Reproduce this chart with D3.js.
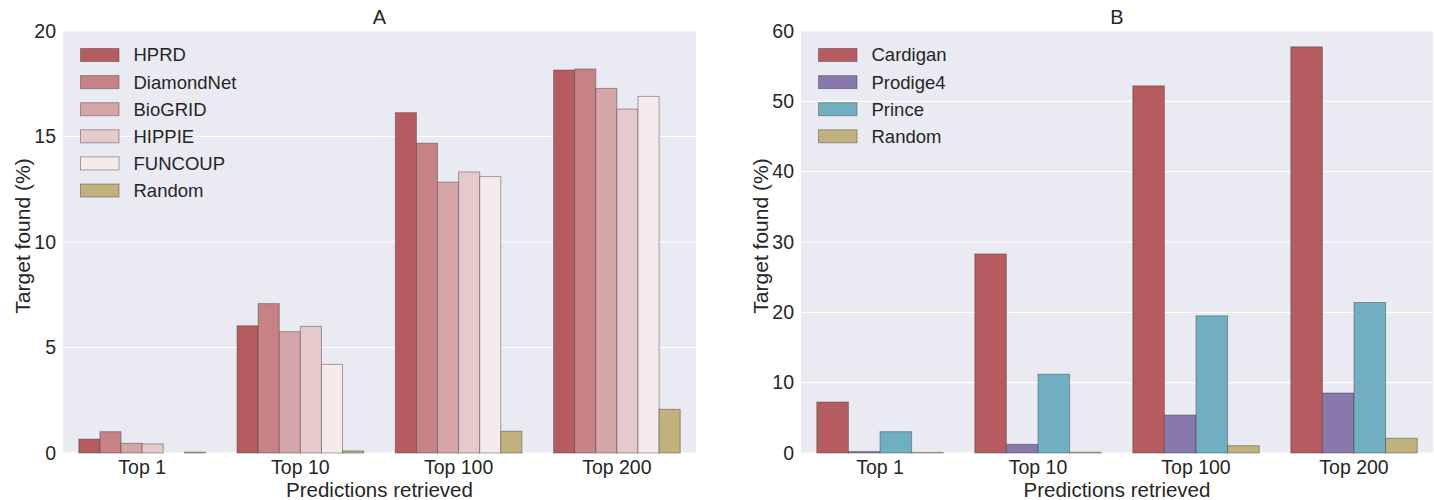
<!DOCTYPE html>
<html>
<head>
<meta charset="utf-8">
<script src="https://cdn.jsdelivr.net/npm/d3@7"></script>
<style>
  html, body { margin: 0; padding: 0; background: #fff; }
  svg { display: block; font-family: "Liberation Sans", Arial, sans-serif; }
</style>
</head>
<body>
<svg id="chart" width="1434" height="500"></svg>
<script>
// Categories shared by both panels
const categories = ["Top 1", "Top 10", "Top 100", "Top 200"];

// Panel A: interaction networks
const seriesA = ["HPRD", "DiamondNet", "BioGRID", "HIPPIE", "FUNCOUP", "Random"];
const hprd       = [0.66, 6.03, 16.13, 18.15];
const diamondNet = [1.01, 7.08, 14.68, 18.2];
const bioGrid    = [0.46, 5.75, 12.84, 17.28];
const hippie     = [0.43, 6.0, 13.32, 16.3];
const funcoup    = [0.0, 4.2, 13.1, 16.9];
const randomA    = [0.04, 0.1, 1.03, 2.07];
const colorsA = ["#b65c60", "#c68284", "#d6a5a7", "#e6c9cb", "#f5ebec", "#c0b27c"];
const ticksA = [0, 5, 10, 15, 20];

// Panel B: prioritisation methods
const seriesB = ["Cardigan", "Prodige4", "Prince", "Random"];
const cardigan = [7.25, 28.3, 52.2, 57.75];
const prodige4 = [0.2, 1.24, 5.4, 8.53];
const prince   = [3.03, 11.2, 19.5, 21.4];
const randomB  = [0.08, 0.1, 1.04, 2.09];
const colorsB = ["#b65c60", "#8878ab", "#70afc2", "#c0b27c"];
const ticksB = [0, 10, 20, 30, 40, 50, 60];

const svg = d3.select("#chart");
const FONT = "Liberation Sans, Arial, sans-serif";
const INK = "#262626";

function panel(opts) {
  const { left, right, top, bottom, title, series, values, colors, yMax, ticks, legendTop } = opts;
  const g = svg.append("g");

  const x0 = d3.scaleBand().domain(categories).range([left, right]).paddingInner(0).paddingOuter(0);
  const x1 = d3.scaleBand().domain(series).range([0, x0.bandwidth() * 0.8]);
  const y = d3.scaleLinear().domain([0, yMax]).range([bottom, top]);

  // background
  g.append("rect").attr("x", left).attr("y", top)
    .attr("width", right - left).attr("height", bottom - top)
    .attr("fill", "#eaeaf2");

  // gridlines
  g.selectAll(".grid").data(ticks).enter().append("line")
    .attr("x1", left).attr("x2", right)
    .attr("y1", d => y(d)).attr("y2", d => y(d))
    .attr("stroke", "#fff").attr("stroke-width", 1.2);

  // y axis (tick labels only)
  const yAxis = d3.axisLeft(y).tickValues(ticks).tickSize(0).tickPadding(7);
  const ya = g.append("g").attr("transform", `translate(${left},0)`).call(yAxis);
  ya.select(".domain").remove();
  ya.selectAll("text").attr("font-size", 19.5).attr("fill", INK).attr("font-family", FONT);

  // x axis (tick labels only)
  const xAxis = d3.axisBottom(x0).tickSize(0).tickPadding(7);
  const xa = g.append("g").attr("transform", `translate(0,${bottom})`).call(xAxis);
  xa.select(".domain").remove();
  xa.selectAll("text").attr("font-size", 19.5).attr("fill", INK).attr("font-family", FONT);

  // bars
  series.forEach((s, si) => {
    const vals = values[si];
    g.append("g").selectAll("rect").data(categories).enter().append("rect")
      .attr("x", c => x0(c) + x0.bandwidth() * 0.1 + x1(s))
      .attr("width", x1.bandwidth())
      .attr("y", (c, i) => y(vals[i]))
      .attr("height", (c, i) => y(0) - y(vals[i]))
      .attr("fill", colors[si])
      .attr("stroke", "rgba(60,60,60,0.45)")
      .attr("stroke-width", 1);
  });

  // legend
  const lg = g.append("g");
  series.forEach((s, si) => {
    const cy = legendTop + si * 27.1;
    lg.append("rect").attr("x", left + 17.5).attr("y", cy - 6.5)
      .attr("width", 38.5).attr("height", 13)
      .attr("fill", colors[si]).attr("stroke", "rgba(60,60,60,0.45)").attr("stroke-width", 1);
    lg.append("text").attr("x", left + 70.5).attr("y", cy)
      .attr("dy", "0.35em").attr("font-size", 18.5).attr("fill", INK).text(s);
  });

  // title
  g.append("text").attr("x", (left + right) / 2).attr("y", 24)
    .attr("text-anchor", "middle").attr("font-size", 20).attr("fill", INK).text(title);

  // axis titles
  g.append("text").attr("x", (left + right) / 2).attr("y", 497)
    .attr("text-anchor", "middle").attr("font-size", 20.5).attr("fill", INK)
    .text("Predictions retrieved");
  g.append("text")
    .attr("transform", `translate(${left - 33},${(top + bottom) / 2 - 6}) rotate(-90)`)
    .attr("text-anchor", "middle").attr("font-size", 21).attr("fill", INK)
    .text("Target found (%)");
}

panel({
  left: 63, right: 696, top: 31, bottom: 453, title: "A",
  series: seriesA,
  values: [hprd, diamondNet, bioGrid, hippie, funcoup, randomA],
  colors: colorsA, yMax: 20, ticks: ticksA, legendTop: 55
});

panel({
  left: 801, right: 1433, top: 31, bottom: 453, title: "B",
  series: seriesB,
  values: [cardigan, prodige4, prince, randomB],
  colors: colorsB, yMax: 60, ticks: ticksB, legendTop: 55
});
</script>
</body>
</html>
